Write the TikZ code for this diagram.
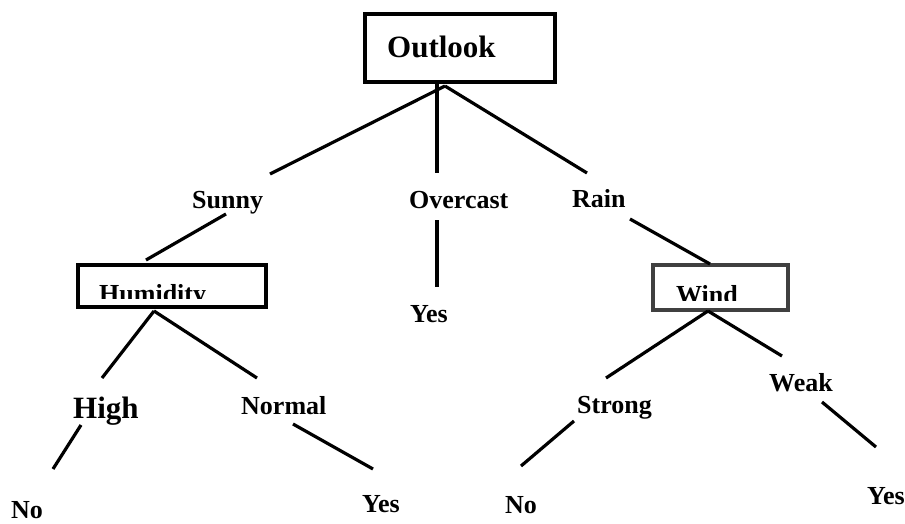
\documentclass[tikz,border=0pt]{standalone}
\usepackage{fontspec}
\setmainfont{Liberation Serif}
\begin{document}
\begin{tikzpicture}[x=1pt,y=-1pt,
  lbl/.style={font=\bfseries\fontsize{26}{26}\selectfont,inner sep=0pt,anchor=base west},
  big/.style={font=\bfseries\fontsize{31}{31}\selectfont,inner sep=0pt,anchor=base west},
  edge/.style={line width=3.2pt},
  boxline/.style={line width=3.2pt}]
\useasboundingbox (0,0) rectangle (905,523);
% boxes
\draw[boxline] (365,14) rectangle (555,82);
\draw[boxline] (78,265) rectangle (266,307);
\draw[boxline,draw=black!75] (653,265) rectangle (788,310);
% texts
\node[big] (outlook) at (387,57) {Outlook};
\node[lbl] (sunny) at (192,208) {Sunny};
\node[lbl] (overcast) at (409,208) {Overcast};
\node[lbl] (rain) at (572,207) {Rain};
\node[lbl] (yes1) at (410,322) {Yes};
\begin{scope}
\clip (80,267) rectangle (264,298);
\node[lbl] (humidity) at (99,302) {Humidity};
\end{scope}
\begin{scope}
\clip (655,267) rectangle (786,300);
\node[lbl] (wind) at (676,303) {Wind};
\end{scope}
\node[big] (high) at (73,418) {High};
\node[lbl] (normal) at (241,414) {Normal};
\node[lbl] (strong) at (577,413) {Strong};
\node[lbl] (weak) at (769,391) {Weak};
\node[lbl] (no1) at (11,518) {No};
\node[lbl] (yes2) at (362,512) {Yes};
\node[lbl] (no2) at (505,513) {No};
\node[lbl] (yes3) at (867,504) {Yes};
% connector end points
\coordinate (oa) at (445,86);
\coordinate (ov) at (437,83);
\coordinate (sunnyT) at (270,174);
\coordinate (overT) at (437,173);
\coordinate (rainT) at (587,173);
\coordinate (sunnyB) at (226,214);
\coordinate (humT) at (146,260);
\coordinate (overB) at (437,220);
\coordinate (yesT) at (437,287);
\coordinate (rainB) at (630,219);
\coordinate (windT) at (710,264);
\coordinate (ha) at (154,311);
\coordinate (highT) at (102,378);
\coordinate (normalT) at (257,378);
\coordinate (highB) at (81,425);
\coordinate (noT) at (53,469);
\coordinate (normalB) at (293,424);
\coordinate (yesT2) at (373,469);
\coordinate (wa) at (708,311);
\coordinate (strongT) at (606,378);
\coordinate (weakT) at (782,356);
\coordinate (strongB) at (574,421);
\coordinate (noT2) at (521,466);
\coordinate (weakB) at (822,402);
\coordinate (yesT3) at (876,447);
% connectors
\draw[edge] (oa) -- (sunnyT);
\draw[edge] (ov) -- (overT);
\draw[edge] (oa) -- (rainT);
\draw[edge] (sunnyB) -- (humT);
\draw[edge] (overB) -- (yesT);
\draw[edge] (rainB) -- (windT);
\draw[edge] (ha) -- (highT);
\draw[edge] (ha) -- (normalT);
\draw[edge] (highB) -- (noT);
\draw[edge] (normalB) -- (yesT2);
\draw[edge] (wa) -- (strongT);
\draw[edge] (wa) -- (weakT);
\draw[edge] (strongB) -- (noT2);
\draw[edge] (weakB) -- (yesT3);
\end{tikzpicture}
\end{document}
